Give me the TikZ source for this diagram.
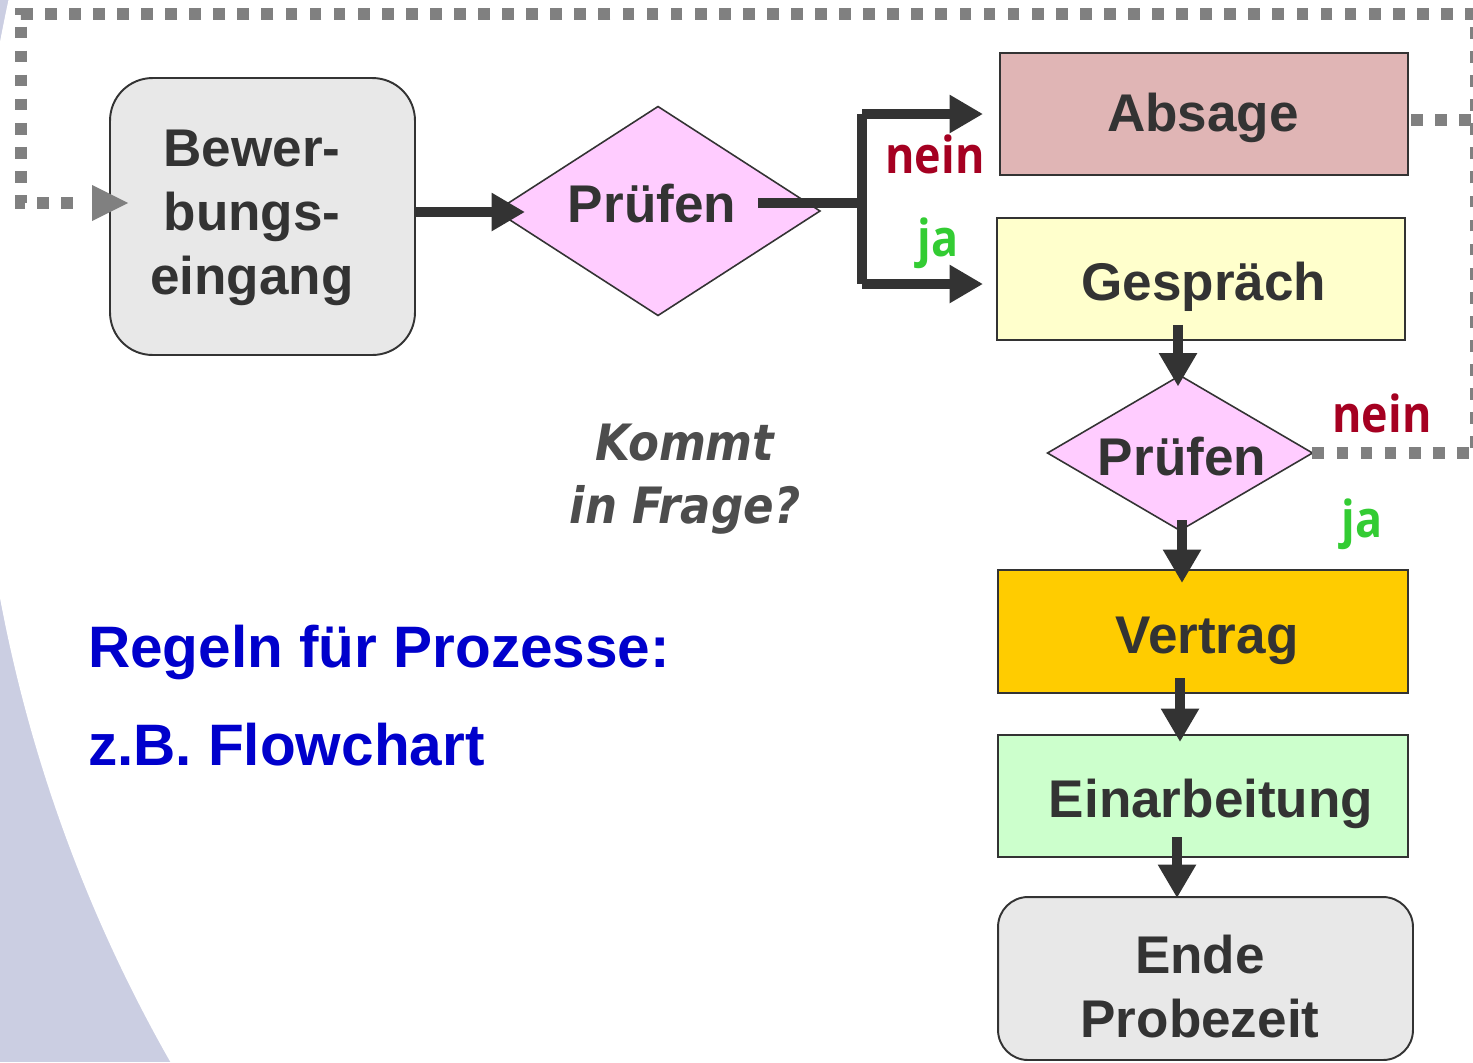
\documentclass[tikz,border=0pt]{standalone}
\usepackage{fontspec}
\setmainfont{Liberation Sans}
\newfontfamily\labelfont[FakeStretch=0.88]{Open Sans}
\newfontfamily\notefont[FakeStretch=0.9]{DejaVu Sans}
\usetikzlibrary{arrows.meta,shapes.geometric}

\definecolor{ink}{HTML}{333333}
\definecolor{lav}{RGB}{203,206,226}
\definecolor{dotgray}{HTML}{808080}
\definecolor{boxgray}{HTML}{E8E8E8}
\definecolor{pruef}{HTML}{FFCCFF}
\definecolor{absagefill}{HTML}{E0B5B5}
\definecolor{gesprfill}{HTML}{FFFFCC}
\definecolor{vertrfill}{HTML}{FFCC00}
\definecolor{einarbfill}{HTML}{CCFFCC}
\definecolor{neinred}{HTML}{A50021}
\definecolor{jagreen}{HTML}{33CC33}
\definecolor{rulesblue}{HTML}{0000CC}
\definecolor{notegray}{HTML}{4D4D4D}

\tikzset{
  every node/.style={inner sep=0pt, outer sep=0pt},
  procbox/.style={rectangle, draw=ink, line width=1.1pt},
  roundbox/.style={procbox, fill=boxgray},
  decision/.style={diamond, draw=ink, line width=0.9pt, fill=pruef},
  boxtext/.style={text=ink, font=\bfseries\fontsize{30.2}{36.4}\selectfont, align=center},
  neinlabel/.style={text=neinred, font=\labelfont\bfseries\fontsize{29}{34}\selectfont, anchor=base},
  jalabel/.style={text=jagreen, font=\labelfont\bfseries\fontsize{29}{34}\selectfont, anchor=base},
  ruletext/.style={text=rulesblue, font=\bfseries\fontsize{33.3}{40}\selectfont, anchor=base west},
  notetext/.style={text=notegray, font=\notefont\bfseries\itshape\fontsize{28.5}{35.9}\selectfont, align=center},
  bar/.style={draw=ink, line width=6.2pt},
  flow/.style={draw=ink, line width=6.2pt, -{Triangle[length=19pt,width=20.5pt]}},
  loopline/.style={draw=dotgray, line width=6.6pt, line cap=butt,
                   dash pattern=on 6.7pt off 7pt},
}

\begin{document}
\begin{tikzpicture}[x=0.02cm, y=-0.02cm]
\useasboundingbox (0,0) rectangle (1473,1062);
\clip (0,0) rectangle (1473,1062);

% backdrop: lavender sweep at the left edge
\fill[lav] (0,0) rectangle (1473,1062);
\fill[white] (1474,320) circle[radius=30cm];

% process steps
\node[roundbox, rounded corners=0.85cm, minimum width=6.1cm, minimum height=5.54cm] (bew) at (262.5,216.5) {};
\node[boxtext] (bewtxt) at (252,217.5) {Bewer-\\bungs-\\eingang};

\node[decision, minimum width=6.48cm, minimum height=4.18cm] (pr1) at (658,211) {};
\node[boxtext, anchor=base] (pr1txt) at (652,222) {Prüfen};

\node[procbox, fill=absagefill, minimum width=8.16cm, minimum height=2.44cm] (absage) at (1204,114) {};
\node[boxtext, anchor=base] (absagetxt) at (1203,131) {Absage};

\node[procbox, fill=gesprfill, minimum width=8.16cm, minimum height=2.44cm] (gesp) at (1201,279) {};
\node[boxtext, anchor=base] (gesptxt) at (1204,300) {Gespräch};

\node[decision, minimum width=5.3cm, minimum height=3.1cm] (pr2) at (1180,453) {};
\node[boxtext, anchor=base] (pr2txt) at (1182,475) {Prüfen};

\node[procbox, fill=vertrfill, minimum width=8.2cm, minimum height=2.46cm] (vertrag) at (1203,631.5) {};
\node[boxtext, anchor=base] (vertragtxt) at (1207,653) {Vertrag};

\node[procbox, fill=einarbfill, minimum width=8.2cm, minimum height=2.44cm] (einarb) at (1203,796) {};
\node[boxtext, anchor=base] (einarbtxt) at (1211,817) {Einarbeitung};

\node[roundbox, rounded corners=0.6cm, minimum width=8.3cm, minimum height=3.26cm] (ende) at (1205.5,978.5) {};
\node[boxtext] (endetxt) at (1200,986.5) {Ende\\Probezeit};

% side texts
\node[notetext] (frage) at (685,479) {Kommt\\in Frage?};
\node[ruletext] (regeln) at (88,667) {Regeln für Prozesse:};
\node[ruletext] (flowchart) at (88,765) {z.B. Flowchart};

% branch labels
\node[neinlabel] (nein1) at (935,173) {nein};
\node[jalabel] (ja1) at (938,256) {ja};
\node[neinlabel] (nein2) at (1382,432) {nein};
\node[jalabel] (ja2) at (1362,537) {ja};

% feedback loop (dotted)
\coordinate (loopA) at (1476,453);
\coordinate (loopB) at (1476,14);
\coordinate (loopC) at (21,14);
\coordinate (loopD) at (21,203);
\coordinate (absageout) at (1476,120);
\draw[loopline] (pr2.east) -- (loopA) -- (loopB) -- (loopC) -- (loopD)
  -- ([shift={(-36,-13.5)}]bew.west);
\fill[dotgray] ([shift={(18,-13.5)}]bew.west) -- ([shift={(-18,-31.5)}]bew.west)
  -- ([shift={(-18,4.5)}]bew.west) -- cycle;
\draw[loopline] ([shift={(3,6)}]absage.east) -- (absageout);

% main flow
\draw[flow] ([shift={(0,-4.5)}]bew.east) -- ([shift={(29,1)}]pr1.west);

\coordinate (br) at (862,203);
\coordinate (brN) at (862,114);
\coordinate (brJ) at (862,284);
\draw[bar] ([shift={(-62,-8)}]pr1.east) -- (br);
\draw[bar, line cap=square] (brN) -- (brJ);
\draw[flow, shorten >=0.34cm] (brN) -- (brN -| absage.west);
\draw[flow, shorten >=0.28cm] (brJ) -- (brJ -| gesp.west);

\draw[flow] ([shift={(-23,-15)}]gesp.south) -- ([shift={(-2,11)}]pr2.north);
\draw[flow] ([shift={(2,-10)}]pr2.south) -- ([shift={(-21,13)}]vertrag.north);
\draw[flow] ([shift={(-23,-15)}]vertrag.south) -- ([shift={(-23,7)}]einarb.north);
\draw[flow] ([shift={(-26,-20)}]einarb.south) -- ([shift={(-28.5,1)}]ende.north);
\end{tikzpicture}
\end{document}
